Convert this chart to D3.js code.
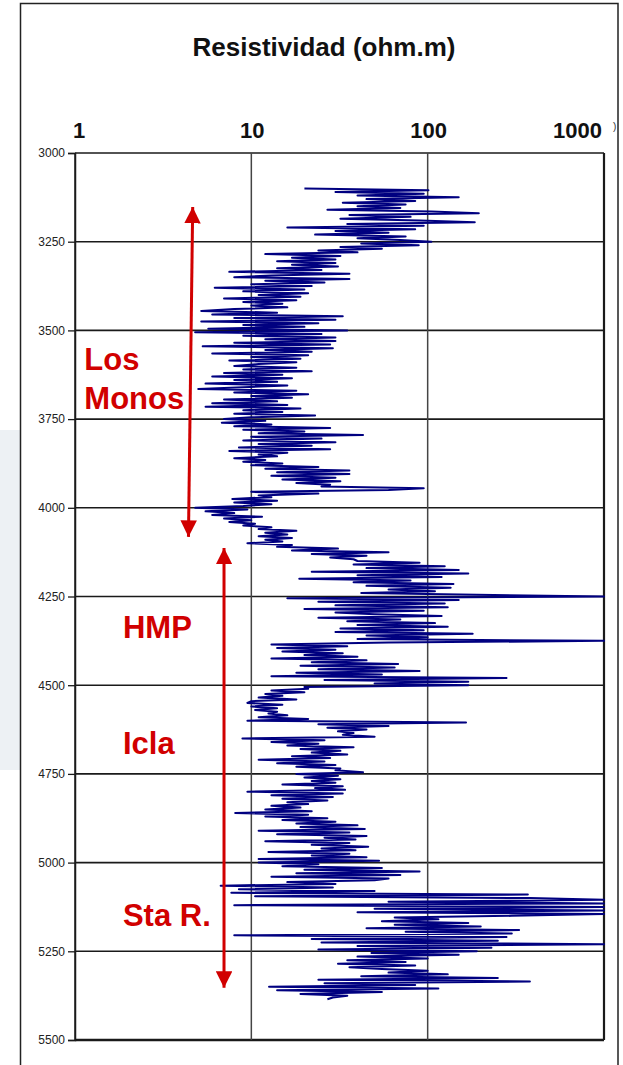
<!DOCTYPE html>
<html>
<head>
<meta charset="utf-8">
<script src="https://cdn.jsdelivr.net/npm/d3@7"></script>
<style>
  body { margin: 0; background: #fff; }
  svg { display: block; font-family: "Liberation Sans", Arial, sans-serif; }
</style>
</head>
<body>
<script>
// resistivity log, one reading every 5 m starting at 3100 m
var depthStart = 3100;
var depthStep = 5;
var resistivity = [
  20,101,30,95,40,150,45,85,33,75,
  40,70,27,105,195,36,80,32,90,185,
  35,95,16,85,30,60,23,75,40,70,
  105,42,89,32,55,24,40,12,32,17,
  30,14,30,17,31,14,25,7.5,36,13,
  8,36,12,26,10,22,6.2,20,9,21,
  11,19,7,18,9,15,10,16,8,5.2,
  14,6,33,8,30,5.2,24,9,20,5.7,
  35,4.8,25,9,30,12,30,8,28,5.3,
  29,12,22,6,21,10,19,7.5,18,11,
  8,18,9,22,7,15,6,17,8,14,
  5.5,16,9,5,18,8,21,10,17,7,
  14,6,16,5.5,19,9,15,8,23,10,
  7,12,6.8,13,8,28,9,20,11,43,
  10,25,9,30,11,22,8.5,28,7.5,16,
  11,14,8,12,9,15,10,24,12,36,
  14,36,13,30,15,32,18,28,25,95,
  60,10,24,11,13,7.8,14,8,13,9,
  4.8,9.5,5.5,8,6,11.5,7,10,7.5,10.5,
  9,13,11,18,12,16,11,17,12,15,
  9.5,17,14,31,17,60,22,45,28,38,
  40,90,38,125,45,150,22,170,40,120,
  18.7,80,38,140,45,135,60,110,42,190,
  1000,16,150,24,125,30,130,20,95,30,
  50,120,24,70,35,110,40,130,32,95,
  30,180,45,100,40,1000,60,13,35,14,
  30,15,33,20,40,13,45,22,68,19,
  65,24,90,18,55,13,280,26,170,50,
  170,20,21,13,20,12,15,11,18,10,
  9.5,15,10,14,10.5,14,12.5,16,11,21,
  9.5,165,24,60,27,45,31,38,33,50,
  8.9,26,13,24,16,38,19,32,22,35,
  17,28,11,26,14,30,18,32,30,43,
  18,31,20,32,22,30,15,33,23,34,
  9.5,33,13,29,15,27,16,21,13,19,
  12,22,8.1,21,12,27,15,30,18,40,
  19,44,11,36,14,45,26,39,12,36,
  22,46,25,39,12.5,36,22,45,11,53,
  11,24,15,55,20,90,18,70,13,60,
  50,16,30,6.7,29,8.5,50,7.7,370,10.5,
  380,1000,60,1000,8,1000,50,1000,40,1000,
  300,65,115,55,170,65,200,45,330,75,
  300,8,280,22,250,25,1000,40,230,24,
  190,48,150,40,100,35,75,31,85,36,
  55,100,60,130,42,250,24,380,26,85,
  12.6,115,14,55,19,35,29,27
];

var resTicks = [1, 10, 100, 1000];
var depthTicks = [3000, 3250, 3500, 3750, 4000, 4250, 4500, 4750, 5000, 5250, 5500];

// formation labels (resistivity, depth of baseline)
var formations = [
  {text: "Los", r: 1.13, d: 3612},
  {text: "Monos", r: 1.13, d: 3722},
  {text: "HMP", r: 1.87, d: 4367},
  {text: "Icla", r: 1.87, d: 4695},
  {text: "Sta R.", r: 1.87, d: 5178}
];
// red arrows (top and bottom of each interval)
var arrows = [
  {r1: 4.65, d1: 3152, r2: 4.4, d2: 4082},
  {r1: 7.0, d1: 4113, r2: 7.0, d2: 5353}
];

var width = 623, height = 1065;
var svg = d3.select("body").append("svg")
    .attr("width", width)
    .attr("height", height);

// light page background blocks seen outside the frame
svg.append("rect").attr("x", 0).attr("y", 430).attr("width", 20).attr("height", 340).attr("fill", "#edf1f4");
svg.append("rect").attr("x", 320).attr("y", 0).attr("width", 160).attr("height", 3).attr("fill", "#edf1f4");

// outer frame
svg.append("path")
    .attr("d", "M20.5,1065V3.5H618V1065")
    .attr("fill", "none")
    .attr("stroke", "#222")
    .attr("stroke-width", 1.5);

var x = d3.scaleLog().domain([1, 1000]).range([75, 604]).clamp(true);
var y = d3.scaleLinear().domain([3000, 5500]).range([153, 1040]);

// title
svg.append("text")
    .attr("x", 324).attr("y", 56)
    .attr("text-anchor", "middle")
    .attr("font-size", 26).attr("font-weight", "bold")
    .attr("fill", "#111")
    .text("Resistividad (ohm.m)");

// top tick labels
svg.selectAll(".rlab")
    .data(resTicks)
    .enter().append("text")
    .attr("class", "rlab")
    .attr("x", function(d) { return d === 1000 ? x(d) - 2 : x(d) + (d === 1 ? 4 : 1); })
    .attr("y", 138)
    .attr("text-anchor", function(d) { return d === 1000 ? "end" : "middle"; })
    .attr("font-size", 22).attr("font-weight", "bold")
    .attr("fill", "#111")
    .text(function(d) { return d; });

svg.append("text")
    .attr("x", 613).attr("y", 130)
    .attr("font-size", 10).attr("fill", "#333")
    .text(")");

// horizontal grid
svg.selectAll(".hgrid")
    .data(depthTicks)
    .enter().append("line")
    .attr("class", "hgrid")
    .attr("x1", x(1)).attr("x2", x(1000))
    .attr("y1", function(d) { return y(d); })
    .attr("y2", function(d) { return y(d); })
    .attr("stroke", "#1a1a1a")
    .attr("stroke-width", function(d) { return d === 5500 ? 2.5 : 1.6; });

// vertical grid
svg.selectAll(".vgrid")
    .data(resTicks)
    .enter().append("line")
    .attr("class", "vgrid")
    .attr("x1", function(d) { return x(d); })
    .attr("x2", function(d) { return x(d); })
    .attr("y1", y(3000)).attr("y2", y(5500))
    .attr("stroke", function(d) { return d === 1 || d === 1000 ? "#1a1a1a" : "#444"; })
    .attr("stroke-width", function(d) { return d === 1000 ? 2.2 : 1.5; });

// depth axis
var yAxis = d3.axisLeft(y).tickValues(depthTicks).tickFormat(d3.format("d")).tickSize(7).tickPadding(3);
var ga = svg.append("g")
    .attr("transform", "translate(" + x(1) + ",0)")
    .call(yAxis);
ga.select(".domain").attr("stroke", "#1a1a1a").attr("stroke-width", 1.5);
ga.selectAll(".tick line").attr("stroke", "#1a1a1a").attr("stroke-width", 1.3);
ga.selectAll(".tick text")
    .attr("font-family", "'Liberation Sans', Arial, sans-serif")
    .attr("font-size", 12)
    .attr("fill", "#222");

// log curve
var logData = resistivity.map(function(r, i) {
    return {depth: depthStart + i * depthStep, r: r};
});
var line = d3.line()
    .x(function(d) { return x(d.r); })
    .y(function(d) { return y(d.depth); });

svg.append("path")
    .datum(logData)
    .attr("d", line)
    .attr("fill", "none")
    .attr("stroke", "#000080")
    .attr("stroke-width", 2)
    .attr("stroke-linejoin", "round");

// red annotations
var red = "#d10000";
svg.append("defs").append("marker")
    .attr("id", "head")
    .attr("viewBox", "0 0 10 10")
    .attr("refX", 10).attr("refY", 5)
    .attr("markerWidth", 5.5).attr("markerHeight", 5.5)
    .attr("markerUnits", "strokeWidth")
    .attr("orient", "auto-start-reverse")
    .append("path")
    .attr("d", "M0,0L10,5L0,10z")
    .attr("fill", red);

svg.selectAll(".arrow")
    .data(arrows)
    .enter().append("line")
    .attr("class", "arrow")
    .attr("x1", function(d) { return x(d.r1); })
    .attr("y1", function(d) { return y(d.d1); })
    .attr("x2", function(d) { return x(d.r2); })
    .attr("y2", function(d) { return y(d.d2); })
    .attr("stroke", red)
    .attr("stroke-width", 3)
    .attr("marker-start", "url(#head)")
    .attr("marker-end", "url(#head)");

svg.selectAll(".form")
    .data(formations)
    .enter().append("text")
    .attr("class", "form")
    .attr("x", function(d) { return x(d.r); })
    .attr("y", function(d) { return y(d.d); })
    .attr("font-size", 31).attr("font-weight", "bold")
    .attr("fill", red)
    .text(function(d) { return d.text; });
</script>
</body>
</html>
